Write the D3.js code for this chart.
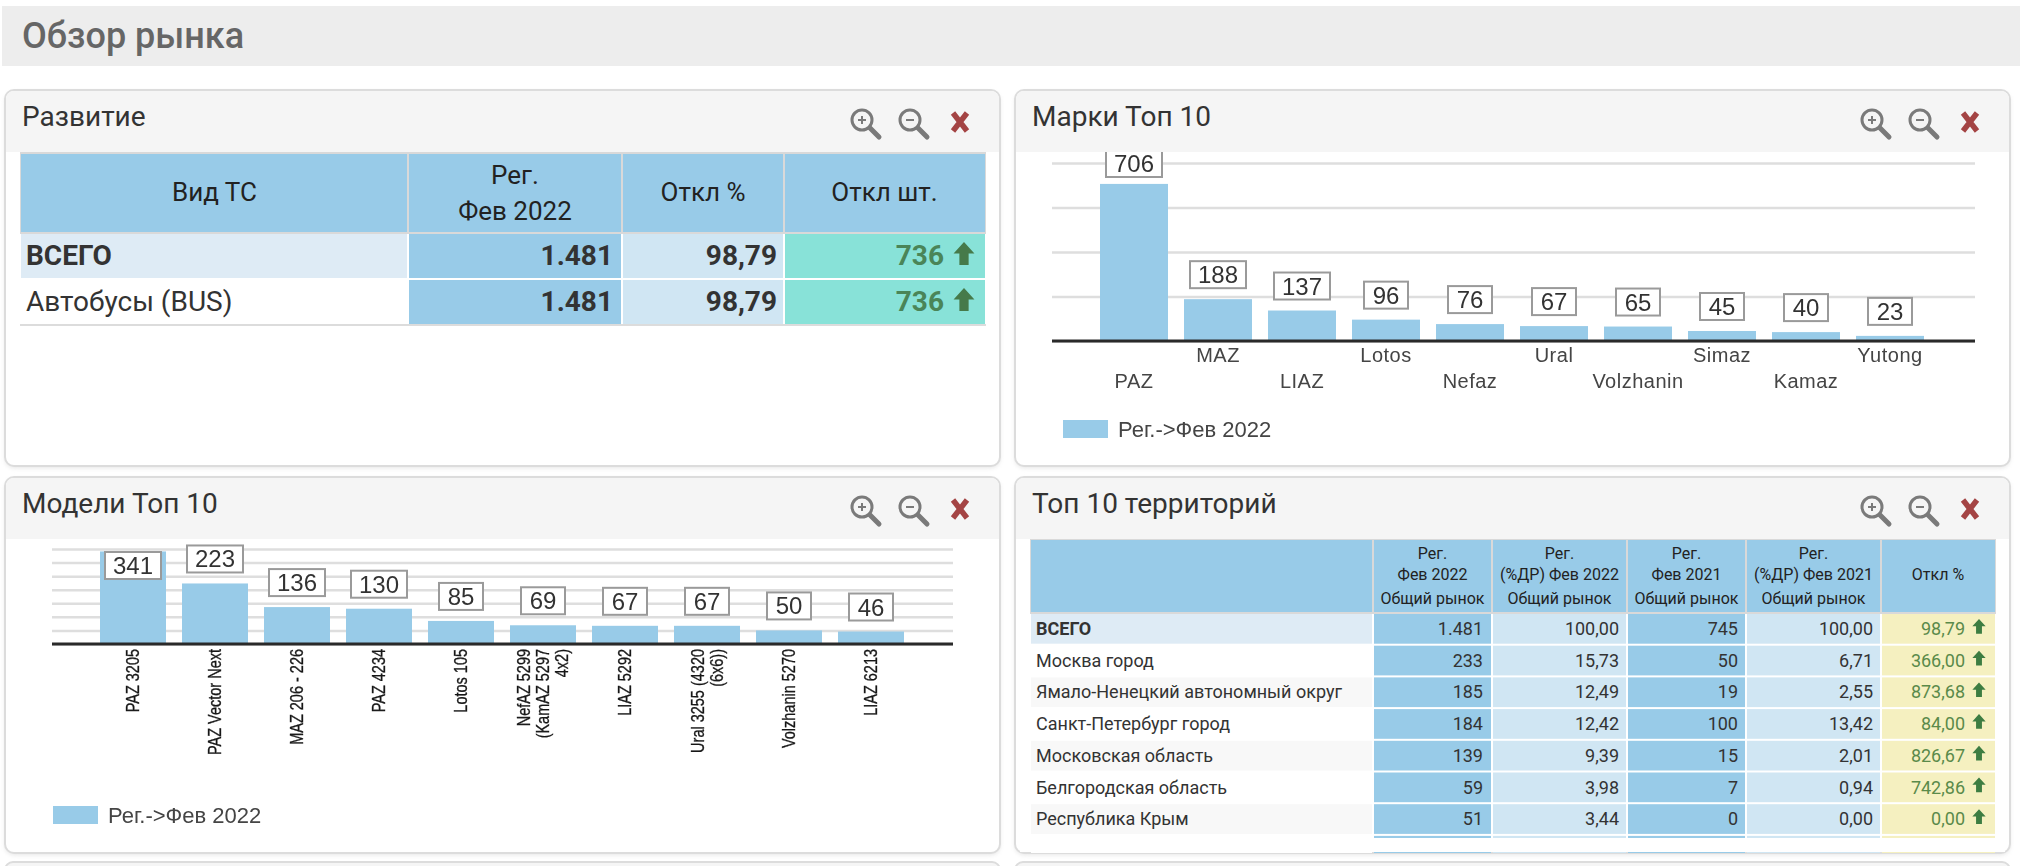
<!DOCTYPE html>
<html lang="ru">
<head>
<meta charset="utf-8">
<title>Обзор рынка</title>
<script src="https://cdn.jsdelivr.net/npm/d3@7"></script>
<style>
  html, body { margin: 0; padding: 0; background: #fff; overflow: hidden; }
  text { font-family: Roboto, sans-serif; }
  .chart text { font-family: "Liberation Sans", Arial, sans-serif; }
</style>
</head>
<body>
<svg id="page" width="2020" height="866"></svg>
<script>
// Развитие
const devHeaders = [['Вид ТС'], ['Рег.', 'Фев 2022'], ['Откл %'], ['Откл шт.']];
const devNames = ['ВСЕГО', 'Автобусы (BUS)'];
const devRegs = ['1.481', '1.481'];
const devPct = ['98,79', '98,79'];
const devUnits = ['736', '736'];

// Марки Топ 10
const brandNames = ['PAZ', 'MAZ', 'LIAZ', 'Lotos', 'Nefaz', 'Ural', 'Volzhanin', 'Simaz', 'Kamaz', 'Yutong'];
const brandValues = [706, 188, 137, 96, 76, 67, 65, 45, 40, 23];
const brandTicks = [0, 200, 400, 600, 800];

// Модели Топ 10
const modelNames = [
    ['PAZ 3205'], ['PAZ Vector Next'], ['MAZ 206 - 226'], ['PAZ 4234'], ['Lotos 105'],
    ['NefAZ 5299', '(KamAZ 5297', '4x2)'], ['LIAZ 5292'], ['Ural 3255 (4320', '(6x6))'],
    ['Volzhanin 5270'], ['LIAZ 6213']
];
const modelValues = [341, 223, 136, 130, 85, 69, 67, 67, 50, 46];
const modelTicks = [0, 50, 100, 150, 200, 250, 300, 350];

const legendLabel = 'Рег.->Фев 2022';

// Топ 10 территорий
const terrHeaders = [
    [], ['Рег.', 'Фев 2022', 'Общий рынок'], ['Рег.', '(%ДР) Фев 2022', 'Общий рынок'],
    ['Рег.', 'Фев 2021', 'Общий рынок'], ['Рег.', '(%ДР) Фев 2021', 'Общий рынок'], ['Откл %']
];
const terrNames = ['ВСЕГО', 'Москва город', 'Ямало-Ненецкий автономный округ', 'Санкт-Петербург город',
    'Московская область', 'Белгородская область', 'Республика Крым'];
const terrReg22 = ['1.481', '233', '185', '184', '139', '59', '51'];
const terrShare22 = ['100,00', '15,73', '12,49', '12,42', '9,39', '3,98', '3,44'];
const terrReg21 = ['745', '50', '19', '100', '15', '7', '0'];
const terrShare21 = ['100,00', '6,71', '2,55', '13,42', '2,01', '0,94', '0,00'];
const terrPct = ['98,79', '366,00', '873,68', '84,00', '826,67', '742,86', '0,00'];

const BLUE = '#98cbe8';
const LIGHT_BLUE = '#d0e6f3';
const TOTAL_BLUE = '#deebf5';
const GRID = '#dedede';

const svg = d3.select('#page');
const defs = svg.append('defs');

defs.append('filter').attr('id', 'soft')
    .attr('x', '-5%').attr('y', '-5%').attr('width', '110%').attr('height', '110%')
    .append('feGaussianBlur').attr('stdDeviation', 0.45);

// page header
svg.append('rect').attr('x', 2).attr('y', 6).attr('width', 2018).attr('height', 60).attr('fill', '#ededed');
svg.append('text').attr('x', 22).attr('y', 48)
    .attr('font-size', 36).attr('font-weight', 500).attr('fill', '#666').text('Обзор рынка');

function drawPanel(id, x, y, w, h, title) {
    const g = svg.append('g');
    g.append('rect').attr('x', x).attr('y', y + 2).attr('width', w).attr('height', h)
        .attr('rx', 9).attr('fill', '#e6e6e6').style('filter', 'blur(2px)');
    g.append('rect').attr('x', x).attr('y', y).attr('width', w).attr('height', h)
        .attr('rx', 9).attr('fill', '#fff').attr('stroke', '#dcdcdc').attr('stroke-width', 2);
    g.append('path')
        .attr('d', `M${x + 1},${y + 62}V${y + 9}a8,8 0 0 1 8,-8H${x + w - 9}a8,8 0 0 1 8,8V${y + 62}Z`)
        .attr('fill', '#f5f5f5');
    g.append('text').attr('x', x + 17).attr('y', y + 36)
        .attr('font-size', 28).attr('fill', '#333').text(title);

    // zoom in, zoom out, close
    [845, 893].forEach((dx, i) => {
        const ic = g.append('g').attr('transform', `translate(${x + dx + 12},${y + 30})`)
            .attr('fill', 'none').attr('stroke', '#7a7a7a');
        ic.append('circle').attr('r', 10).attr('stroke-width', 3);
        ic.append('line').attr('x1', 8).attr('y1', 8).attr('x2', 17).attr('y2', 17)
            .attr('stroke-width', 5).attr('stroke-linecap', 'round');
        ic.append('line').attr('x1', -4).attr('x2', 4).attr('stroke-width', 2);
        if (i === 0) ic.append('line').attr('y1', -4).attr('y2', 4).attr('stroke-width', 2);
    });
    g.append('path').attr('transform', `translate(${x + 955},${y + 32})`)
        .attr('d', 'M-7,-9L7,9M7,-9L-7,9')
        .attr('fill', 'none').attr('stroke', '#a44444').attr('stroke-width', 5.5);

    // chart area clip so that a tall label goes under the panel header
    defs.append('clipPath').attr('id', id)
        .append('rect').attr('x', x).attr('y', y + 62).attr('width', w).attr('height', h - 62);
}

function upArrow(g, x, y, size, color) {
    // x, y = top centre of the arrow
    const s = size / 20;
    g.append('path').attr('transform', `translate(${x},${y}) scale(${s})`)
        .attr('d', 'M0,0L9.5,10.5H4.2V21H-4.2V10.5H-9.5Z').attr('fill', color);
}

function drawBarChart(o) {
    const x = d3.scaleBand().domain(d3.range(o.values.length)).range(o.xRange)
        .paddingInner(16 / o.step).paddingOuter(8 / o.step);
    const y = d3.scaleLinear().domain(o.yDomain).range(o.yRange);

    const g = svg.append('g').attr('class', 'chart')
        .attr('clip-path', `url(#${o.clip})`)
        .append('g').style('filter', 'url(#soft)');

    const grid = g.append('g').attr('transform', `translate(${o.gridX[0]},0)`)
        .call(d3.axisLeft(y).tickValues(o.ticks).tickFormat('').tickSize(-(o.gridX[1] - o.gridX[0])));
    grid.select('.domain').remove();
    grid.selectAll('line').attr('stroke', GRID).attr('stroke-width', 2.5);

    g.selectAll('rect.bar').data(o.values).enter().append('rect')
        .attr('class', 'bar')
        .attr('x', (d, i) => x(i))
        .attr('y', d => y(d))
        .attr('width', x.bandwidth())
        .attr('height', d => y(0) - y(d))
        .attr('fill', BLUE);

    // baseline on top of the bars
    g.append('line').attr('x1', o.gridX[0]).attr('x2', o.gridX[1])
        .attr('y1', y(0)).attr('y2', y(0)).attr('stroke', '#2a2a2a').attr('stroke-width', 3);

    // value labels, a label that does not fit above its bar is pulled down
    const labels = g.selectAll('g.val').data(o.values).enter().append('g').attr('class', 'val')
        .attr('transform', (d, i) => {
            let top = y(d) - 11 - 27;
            if (top < o.labelMin) top = o.labelTop;
            return `translate(${x(i) + x.bandwidth() / 2},${top})`;
        });
    labels.append('rect')
        .attr('x', d => d >= 100 ? -28 : -22)
        .attr('width', d => d >= 100 ? 56 : 44)
        .attr('height', 27)
        .attr('fill', '#fff').attr('stroke', '#9a9a9a').attr('stroke-width', 2);
    labels.append('text').attr('text-anchor', 'middle').attr('y', 22)
        .attr('font-size', 24).attr('fill', '#333').text(d => d);

    // category axis
    const axis = g.append('g').attr('transform', `translate(0,${y(0)})`)
        .call(d3.axisBottom(x).tickSize(0).tickFormat(''));
    axis.select('.domain').remove();
    o.drawLabels(axis, x);

    // legend
    const lg = svg.append('g').attr('class', 'chart').append('g').style('filter', 'url(#soft)');
    lg.append('rect').attr('x', o.legend[0]).attr('y', o.legend[1])
        .attr('width', 45).attr('height', 18).attr('fill', BLUE);
    lg.append('text').attr('x', o.legend[0] + 55).attr('y', o.legend[1] + 17)
        .attr('font-size', 22).attr('fill', '#444').text(legendLabel);
}

function drawTable(o) {
    const g = svg.append('g').attr('clip-path', o.clip ? `url(#${o.clip})` : null);
    const cols = o.cols;
    const [x0, x1] = [cols[0], cols[cols.length - 1]];

    // header
    g.append('rect').attr('x', x0 - 1).attr('y', o.headTop - 2).attr('width', x1 - x0 + 2)
        .attr('height', o.headBottom - o.headTop + 4).attr('fill', '#d9d9d9');
    o.headers.forEach((lines, c) => {
        g.append('rect').attr('x', cols[c] + (c ? 1 : 0)).attr('y', o.headTop)
            .attr('width', cols[c + 1] - cols[c] - (c ? 1 : 0) - (c < cols.length - 2 ? 1 : 0))
            .attr('height', o.headBottom - o.headTop).attr('fill', BLUE);
        lines.forEach((line, l) => {
            const ys = lines.length === 1 ? o.headOne : o.headLines[lines.length];
            g.append('text').attr('x', (cols[c] + cols[c + 1]) / 2).attr('y', ys[l])
                .attr('text-anchor', 'middle').attr('font-size', o.headSize).attr('fill', '#222').text(line);
        });
    });

    // body
    for (let r = 0; r < o.rowCount; r++) {
        const top = o.rowTop + r * o.rowStep;
        o.cellFill.forEach((fill, c) => {
            const f = typeof fill === 'function' ? fill(r) : fill;
            g.append('rect').attr('x', cols[c] + (c ? 1 : 0)).attr('y', top)
                .attr('width', cols[c + 1] - cols[c] - (c ? 1 : 0) - (c < cols.length - 2 ? 1 : 0))
                .attr('height', o.rowStep - 2).attr('fill', f);
        });
        if (r < o.names.length) {
            const base = top + o.textDy;
            g.append('text').attr('x', cols[0] + 5).attr('y', base)
                .attr('font-size', o.nameSize).attr('font-weight', r === 0 ? 700 : 400)
                .attr('fill', '#333').text(o.names[r]);
            o.columns.forEach((vals, i) => {
                const last = i === o.columns.length - 1;
                g.append('text').attr('x', o.valueRight[i]).attr('y', base)
                    .attr('text-anchor', 'end').attr('font-size', o.valueSize)
                    .attr('font-weight', o.valueWeight)
                    .attr('fill', last ? o.goodColor : '#333').text(vals[r]);
                if (last) upArrow(g, o.arrowX, top + o.arrowDy, o.arrowSize, o.arrowColor);
            });
        }
    }
    if (o.footY) {
        g.append('rect').attr('x', x0 - 1).attr('y', o.footY).attr('width', x1 - x0 + 2)
            .attr('height', 2).attr('fill', '#dcdcdc');
    }
}

drawPanel('clipDev', 5, 90, 995, 376, 'Развитие');
drawPanel('clipBrand', 1015, 90, 995, 376, 'Марки Топ 10');
drawPanel('clipModel', 5, 477, 995, 376, 'Модели Топ 10');
drawPanel('clipTerr', 1015, 477, 995, 376, 'Топ 10 территорий');

// top edge of the next row of panels, cut by the window
[5, 1015].forEach(x => {
    svg.append('path')
        .attr('d', `M${x},870V870a8,8 0 0 1 8,-8H${x + 987}a8,8 0 0 1 8,8`)
        .attr('fill', '#f5f5f5').attr('stroke', '#dcdcdc').attr('stroke-width', 2);
});

drawTable({
    cols: [21, 408, 622, 784, 985],
    headers: devHeaders,
    headTop: 154, headBottom: 232,
    headOne: [201], headLines: { 2: [184, 220] }, headSize: 26,
    rowTop: 234, rowStep: 46, rowCount: 2,
    names: devNames,
    nameSize: 28,
    columns: [devRegs, devPct, devUnits],
    valueRight: [613, 777, 944],
    valueSize: 28, valueWeight: 700,
    cellFill: [r => r === 0 ? TOTAL_BLUE : '#fff', BLUE, LIGHT_BLUE, '#88e2d8'],
    goodColor: '#4a8558', arrowColor: '#467a4a',
    arrowX: 964, arrowDy: 8, arrowSize: 22,
    textDy: 31, footY: 324
});

drawBarChart({
    clip: 'clipBrand',
    values: brandValues,
    step: 84,
    xRange: [1092, 1932],
    yDomain: [0, 800], yRange: [341, 163],
    ticks: brandTicks,
    gridX: [1052, 1975],
    labelMin: 150, labelTop: 150,
    legend: [1063, 420],
    drawLabels: (axis, x) => {
        axis.selectAll('g.tick').data(brandNames).append('text')
            .attr('y', (d, i) => i % 2 ? 21 : 47)
            .attr('text-anchor', 'middle').attr('font-size', 20)
            .attr('letter-spacing', 0.5).attr('fill', '#444').text(d => d);
    }
});

drawBarChart({
    clip: 'clipModel',
    values: modelValues,
    step: 82,
    xRange: [92, 912],
    yDomain: [0, 350], yRange: [644, 549],
    ticks: modelTicks,
    gridX: [52, 953],
    labelMin: 540, labelTop: 552,
    legend: [53, 806],
    drawLabels: (axis, x) => {
        axis.selectAll('g.tick').data(modelNames).each(function (lines) {
            const tick = d3.select(this);
            lines.forEach((line, l) => {
                const dx = (l - (lines.length - 1) / 2) * 19;
                // the source raster has these labels stretched across their height
                tick.append('text')
                    .attr('transform', `translate(${dx + 6},5) rotate(-90) scale(1,1.3)`)
                    .attr('text-anchor', 'end').attr('font-size', 14.5)
                    .attr('fill', '#1a1a1a').attr('stroke', '#1a1a1a').attr('stroke-width', 0.25)
                    .text(line);
            });
        });
    }
});

drawTable({
    clip: 'clipTerr',
    cols: [1031, 1373, 1492, 1627, 1746, 1881, 1995],
    headers: terrHeaders,
    headTop: 540, headBottom: 612,
    headOne: [580], headLines: { 3: [559, 580, 604] }, headSize: 16,
    rowTop: 614, rowStep: 31.7, rowCount: 8,
    names: terrNames,
    nameSize: 18,
    columns: [terrReg22, terrShare22, terrReg21, terrShare21, terrPct],
    valueRight: [1483, 1619, 1738, 1873, 1965],
    valueSize: 18, valueWeight: 400,
    cellFill: [r => r === 0 ? TOTAL_BLUE : (r % 2 ? '#fff' : '#f8f8f8'), BLUE, LIGHT_BLUE, BLUE, LIGHT_BLUE, '#f5f0c0'],
    goodColor: '#5a8a4a', arrowColor: '#3d7d42',
    arrowX: 1979, arrowDy: 5, arrowSize: 14,
    textDy: 21
});

// the territory table is cut off below the seventh row
svg.append('rect').attr('x', 1020).attr('y', 838).attr('width', 985).attr('height', 14).attr('fill', '#fff');
</script>
</body>
</html>
